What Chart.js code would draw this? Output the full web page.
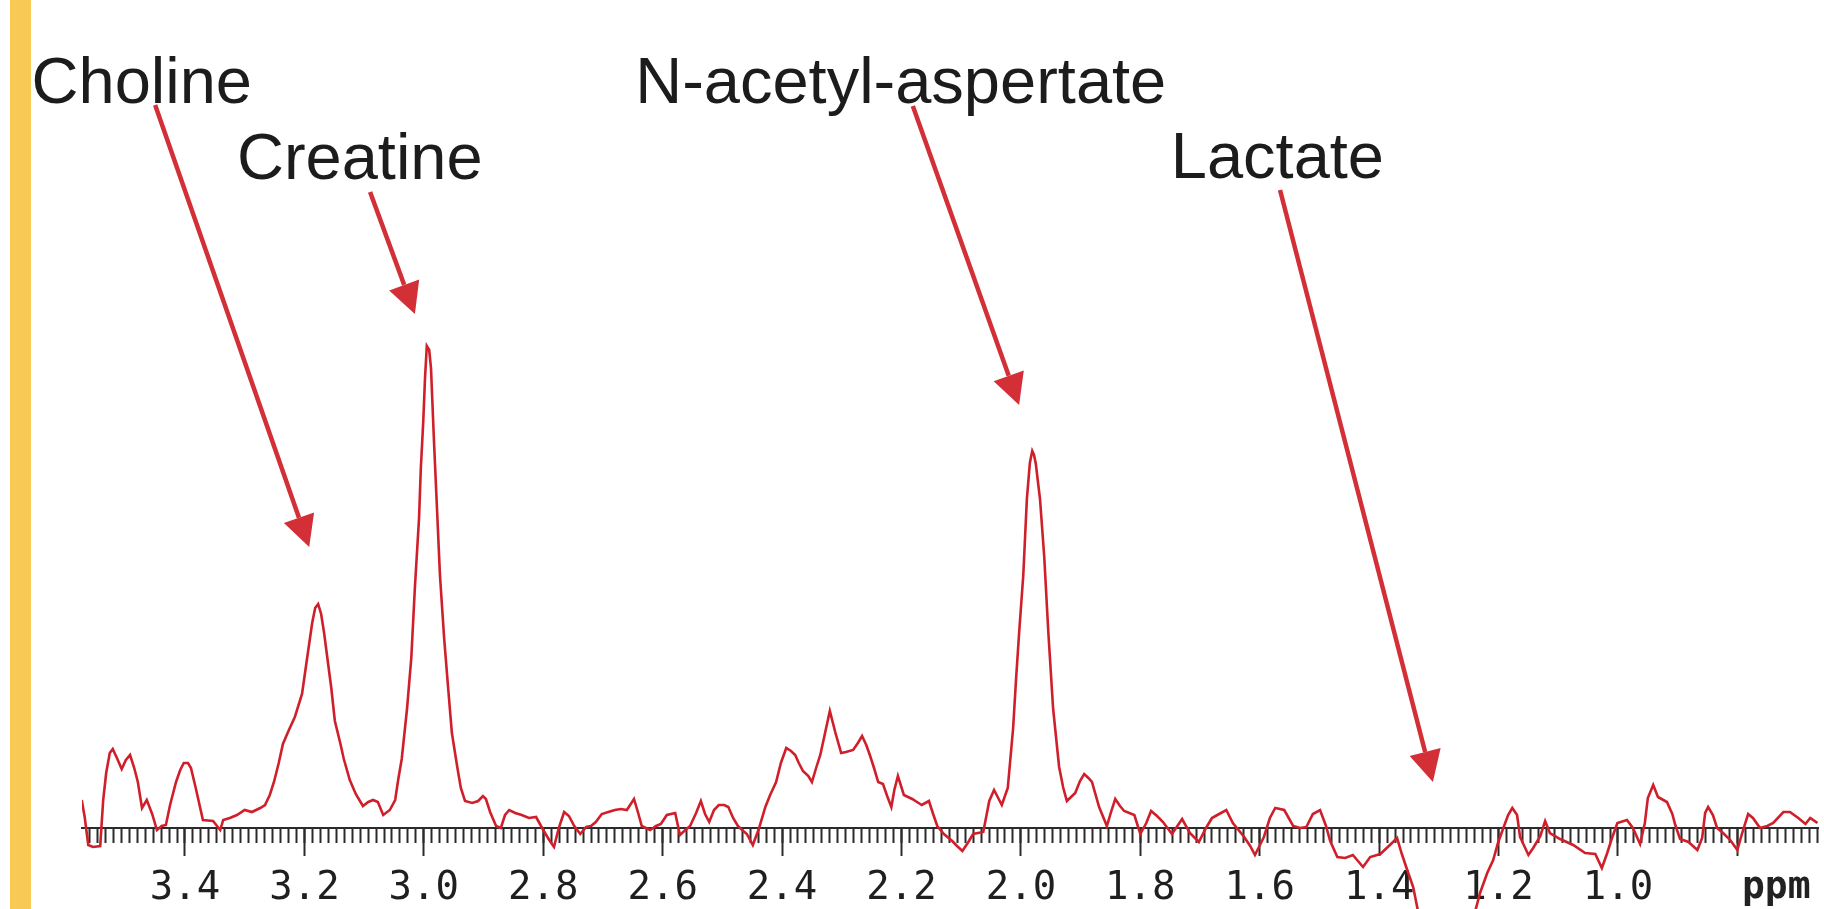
<!DOCTYPE html>
<html>
<head>
<meta charset="utf-8">
<title>MR spectrum</title>
<script src="https://cdn.jsdelivr.net/npm/chart.js@4.4.1/dist/chart.umd.min.js"></script>
<style>
    html, body { margin: 0; padding: 0; background: #fff; overflow: hidden; }
    #wrap { position: relative; width: 1824px; height: 909px; }
    #stripe { position: absolute; left: 10px; top: 0; width: 21px; height: 909px; background: #f8c955; }
    #wrap canvas { position: absolute; left: 0; top: 0; }
</style>
</head>
<body>
<div id="wrap">
    <div id="stripe"></div>
    <canvas id="spectrumChart"></canvas>
</div>
<script>
// chemical shift (ppm) of each sample
const ppm = [
    3.573, 3.568, 3.562, 3.554, 3.542, 3.537, 3.532, 3.526, 3.521, 3.514,
    3.506, 3.499, 3.492, 3.485, 3.479, 3.472, 3.464, 3.455, 3.447, 3.439,
    3.432, 3.425, 3.415, 3.408, 3.402, 3.395, 3.390, 3.382, 3.370, 3.353,
    3.345, 3.341, 3.336, 3.325, 3.313, 3.300, 3.288, 3.274, 3.266, 3.258,
    3.251, 3.243, 3.236, 3.226, 3.216, 3.204, 3.194, 3.187, 3.182, 3.177,
    3.172, 3.167, 3.162, 3.155, 3.149, 3.140, 3.134, 3.124, 3.114, 3.102,
    3.093, 3.085, 3.077, 3.068, 3.057, 3.048, 3.043, 3.037, 3.028, 3.021,
    3.015, 3.008, 3.005, 3.001, 2.998, 2.995, 2.991, 2.988, 2.983, 2.978,
    2.973, 2.966, 2.959, 2.953, 2.944, 2.938, 2.931, 2.919, 2.909, 2.901,
    2.896, 2.889, 2.879, 2.871, 2.864, 2.857, 2.847, 2.836, 2.824, 2.812,
    2.800, 2.790, 2.782, 2.774, 2.765, 2.757, 2.748, 2.738, 2.728, 2.720,
    2.712, 2.702, 2.691, 2.680, 2.670, 2.660, 2.648, 2.641, 2.635, 2.621,
    2.611, 2.603, 2.593, 2.579, 2.571, 2.562, 2.554, 2.544, 2.536, 2.529,
    2.522, 2.514, 2.506, 2.497, 2.490, 2.482, 2.474, 2.465, 2.459, 2.449,
    2.439, 2.428, 2.420, 2.410, 2.402, 2.393, 2.385, 2.378, 2.372, 2.365,
    2.356, 2.350, 2.343, 2.336, 2.328, 2.320, 2.311, 2.301, 2.293, 2.281,
    2.273, 2.266, 2.259, 2.253, 2.246, 2.239, 2.231, 2.224, 2.217, 2.212,
    2.206, 2.196, 2.182, 2.174, 2.166, 2.154, 2.147, 2.140, 2.129, 2.115,
    2.107, 2.098, 2.088, 2.080, 2.072, 2.063, 2.053, 2.045, 2.038, 2.032,
    2.022, 2.013, 2.008, 2.003, 1.996, 1.990, 1.985, 1.981, 1.978, 1.975,
    1.968, 1.961, 1.954, 1.946, 1.936, 1.929, 1.923, 1.916, 1.909, 1.901,
    1.894, 1.887, 1.881, 1.869, 1.856, 1.849, 1.842, 1.834, 1.827, 1.810,
    1.800, 1.790, 1.782, 1.772, 1.762, 1.747, 1.730, 1.717, 1.702, 1.690,
    1.680, 1.671, 1.656, 1.645, 1.626, 1.616, 1.608, 1.593, 1.583, 1.574,
    1.559, 1.544, 1.532, 1.522, 1.511, 1.499, 1.489, 1.482, 1.470, 1.457,
    1.444, 1.427, 1.415, 1.398, 1.382, 1.370, 1.362, 1.353, 1.343, 1.335,
    1.315, 1.286, 1.256, 1.239, 1.231, 1.219, 1.209, 1.201, 1.192, 1.184,
    1.177, 1.169, 1.164, 1.150, 1.142, 1.130, 1.122, 1.114, 1.097, 1.075,
    1.055, 1.038, 1.027, 1.018, 1.010, 1.001, 0.985, 0.975, 0.963, 0.955,
    0.950, 0.941, 0.933, 0.918, 0.909, 0.904, 0.896, 0.882, 0.867, 0.859,
    0.854, 0.849, 0.841, 0.834, 0.824, 0.812, 0.800, 0.792, 0.782, 0.774,
    0.762, 0.750, 0.740, 0.723, 0.712, 0.698, 0.686, 0.678, 0.666
];

// signal intensity (arbitrary units, 0 = baseline)
const intensity = [
    2.8, 1.1, -1.7, -1.9, -1.8, 2.8, 5.5, 7.5, 7.9, 7.0,
    5.9, 6.8, 7.3, 6.0, 4.6, 2.0, 2.8, 1.4, -0.2, 0.2,
    0.3, 2.3, 4.6, 5.8, 6.5, 6.5, 6.0, 4.0, 0.8, 0.7,
    0.1, -0.2, 0.8, 1.0, 1.3, 1.8, 1.6, 2.0, 2.3, 3.3,
    4.6, 6.5, 8.4, 9.8, 11.1, 13.4, 17.6, 20.5, 22.0, 22.4,
    21.4, 19.5, 17.2, 14.0, 10.7, 8.5, 6.9, 4.8, 3.4, 2.2,
    2.6, 2.8, 2.6, 1.3, 1.8, 2.8, 4.8, 6.9, 12.0, 17.0,
    24.0, 31.0, 36.0, 40.6, 45.0, 48.2, 47.8, 46.0, 38.7, 32.0,
    25.3, 19.0, 13.8, 9.5, 6.1, 4.0, 2.7, 2.5, 2.7, 3.2,
    2.9, 1.6, 0.2, 0.0, 1.3, 1.8, 1.5, 1.3, 1.0, 1.1,
    -0.2, -1.2, -1.9, 0.0, 1.6, 1.2, 0.2, -0.6, 0.1, 0.2,
    0.6, 1.4, 1.6, 1.8, 1.9, 1.8, 2.9, 1.5, 0.2, -0.2,
    0.2, 0.4, 1.3, 1.5, -0.7, -0.2, 0.2, 1.5, 2.7, 1.4,
    0.6, 1.8, 2.3, 2.3, 2.1, 1.0, 0.2, -0.3, -0.6, -1.7,
    -0.1, 2.1, 3.3, 4.6, 6.5, 8.0, 7.7, 7.3, 6.5, 5.7,
    5.2, 4.6, 6.0, 7.3, 9.5, 11.7, 9.6, 7.5, 7.6, 7.8,
    8.5, 9.2, 8.3, 7.3, 6.0, 4.6, 4.4, 3.2, 2.1, 3.8,
    5.2, 3.3, 2.9, 2.6, 2.3, 2.7, 1.4, 0.2, -0.6, -1.3,
    -1.8, -2.3, -1.4, -0.6, -0.5, -0.4, 2.7, 3.8, 3.0, 2.3,
    4.0, 10.0, 15.0, 19.5, 25.3, 32.9, 36.5, 37.7, 37.3, 36.4,
    32.9, 27.2, 19.5, 11.9, 6.1, 4.0, 2.7, 3.1, 3.5, 4.7,
    5.4, 5.0, 4.6, 2.1, 0.2, 1.6, 2.9, 2.2, 1.7, 1.3,
    -0.6, 0.5, 1.7, 1.2, 0.6, -0.6, 0.9, -0.5, -1.4, 0.0,
    1.0, 1.3, 1.8, 0.5, -0.9, -1.8, -2.7, -0.9, 1.0, 2.0,
    1.8, 0.2, 0.0, 0.1, 1.4, 1.8, 0.2, -1.3, -2.9, -3.0,
    -2.7, -3.9, -2.9, -2.6, -1.7, -1.0, -2.6, -4.2, -5.9, -8.3,
    -13.0, -15.0, -12.0, -8.3, -6.5, -4.5, -3.2, -1.5, 0.0, 1.3,
    2.0, 1.3, -0.9, -2.7, -2.0, -0.8, 0.7, -0.5, -1.1, -1.7,
    -2.5, -2.6, -4.0, -2.5, -1.0, 0.5, 0.8, 0.0, -1.6, 0.5,
    3.0, 4.3, 3.1, 2.6, 1.4, 0.3, -1.1, -1.4, -2.2, -1.0,
    1.5, 2.1, 1.3, 0.0, -0.5, -1.2, -2.2, -0.5, 1.4, 1.0,
    0.0, 0.2, 0.5, 1.6, 1.6, 1.0, 0.4, 1.0, 0.5
];

// labelled ppm ticks on the axis
const tickValues = [3.4, 3.2, 3.0, 2.8, 2.6, 2.4, 2.2, 2.0, 1.8, 1.6, 1.4, 1.2, 1.0, 0.8];
const tickLabels = ["3.4", "3.2", "3.0", "2.8", "2.6", "2.4", "2.2", "2.0", "1.8", "1.6", "1.4", "1.2", "1.0", ""];

// metabolite names
const peakNames = ["Choline", "Creatine", "N-acetyl-aspertate", "Lactate"];

// annotation placement, in chart units (ppm, intensity)
const nameAt = [[3.657, 72.5], [3.313, 64.9], [2.646, 72.5], [1.749, 65.0]];
const arrowFrom = [[3.450, 72.3], [3.090, 63.6], [2.181, 72.2], [1.566, 63.8]];
const arrowTo = [[3.192, 28.1], [3.015, 51.4], [2.003, 42.3], [1.310, 4.6]];
const unitAt = [0.735, -7.0];

const X_MIN = 0.665;
const X_MAX = 3.5725;
const MINOR_STEP = 0.2 / 15;
const AXIS_COLOR = "#2b2b2b";
const ARROW_COLOR = "#d22f37";

const points = ppm.map((p, i) => ({ x: p, y: intensity[i] }));

// names, arrows and the "ppm" unit label
const peakLabels = {
    id: "peakLabels",
    afterDatasetsDraw(chart) {
        const { ctx, scales: { x, y } } = chart;
        ctx.save();

        ctx.strokeStyle = ARROW_COLOR;
        ctx.fillStyle = ARROW_COLOR;
        ctx.lineWidth = 4.5;
        ctx.lineCap = "butt";
        for (let i = 0; i < peakNames.length; i++) {
            const x1 = x.getPixelForValue(arrowFrom[i][0]);
            const y1 = y.getPixelForValue(arrowFrom[i][1]);
            const x2 = x.getPixelForValue(arrowTo[i][0]);
            const y2 = y.getPixelForValue(arrowTo[i][1]);
            const ang = Math.atan2(y2 - y1, x2 - x1);
            const headLen = 31, headHalf = 16;
            const bx = x2 - headLen * Math.cos(ang);
            const by = y2 - headLen * Math.sin(ang);

            ctx.beginPath();
            ctx.moveTo(x1, y1);
            ctx.lineTo(bx, by);
            ctx.stroke();

            ctx.beginPath();
            ctx.moveTo(x2, y2);
            ctx.lineTo(bx + headHalf * Math.sin(ang), by - headHalf * Math.cos(ang));
            ctx.lineTo(bx - headHalf * Math.sin(ang), by + headHalf * Math.cos(ang));
            ctx.closePath();
            ctx.fill();
        }

        ctx.fillStyle = "#1c1c1c";
        ctx.font = '65px "Liberation Sans", Arial, sans-serif';
        ctx.textAlign = "left";
        ctx.textBaseline = "alphabetic";
        peakNames.forEach((name, i) => {
            ctx.fillText(name, x.getPixelForValue(nameAt[i][0]), y.getPixelForValue(nameAt[i][1]));
        });

        ctx.fillStyle = "#222";
        ctx.font = 'bold 38px "DejaVu Sans Mono", monospace';
        ctx.textAlign = "center";
        ctx.fillText("ppm", x.getPixelForValue(unitAt[0]), y.getPixelForValue(unitAt[1]));

        ctx.restore();
    }
};

const ctx = document.getElementById("spectrumChart");

new Chart(ctx, {
    type: "line",
    data: {
        datasets: [{
            label: "Spectrum",
            data: points,
            xAxisID: "x",
            yAxisID: "y",
            borderColor: "#cf1f2b",
            borderWidth: 2.6,
            pointRadius: 0,
            tension: 0,
            fill: false
        }]
    },
    options: {
        responsive: true,
        maintainAspectRatio: false,
        animation: false,
        events: [],
        layout: {
            padding: { left: 82, right: 6, top: 0, bottom: 0 }
        },
        plugins: {
            legend: { display: false },
            tooltip: { enabled: false }
        },
        scales: {
            // long ticks with labels
            x: {
                type: "linear",
                min: X_MIN,
                max: X_MAX,
                reverse: true,
                position: { y: 0 },
                afterBuildTicks: (axis) => {
                    axis.ticks = tickValues.map(v => ({ value: v }));
                },
                ticks: {
                    autoSkip: false,
                    maxRotation: 0,
                    padding: 10,
                    color: "#1f1f1f",
                    font: { family: '"DejaVu Sans Mono", monospace', size: 39 },
                    callback: (value) => {
                        const k = tickValues.indexOf(value);
                        return k >= 0 ? tickLabels[k] : "";
                    }
                },
                grid: {
                    drawOnChartArea: false,
                    drawTicks: true,
                    tickLength: 27,
                    tickWidth: 2,
                    tickColor: AXIS_COLOR
                },
                border: { display: true, color: AXIS_COLOR, width: 2 }
            },
            // short minor ticks
            xMinor: {
                type: "linear",
                axis: "x",
                min: X_MIN,
                max: X_MAX,
                reverse: true,
                position: { y: 0 },
                ticks: {
                    display: false,
                    stepSize: MINOR_STEP,
                    includeBounds: false
                },
                grid: {
                    drawOnChartArea: false,
                    drawTicks: true,
                    tickLength: 15,
                    tickWidth: 2,
                    tickColor: AXIS_COLOR
                },
                border: { display: false }
            },
            y: {
                display: false,
                min: -8.1,
                max: 82.8
            }
        }
    },
    plugins: [peakLabels]
});
</script>
</body>
</html>
